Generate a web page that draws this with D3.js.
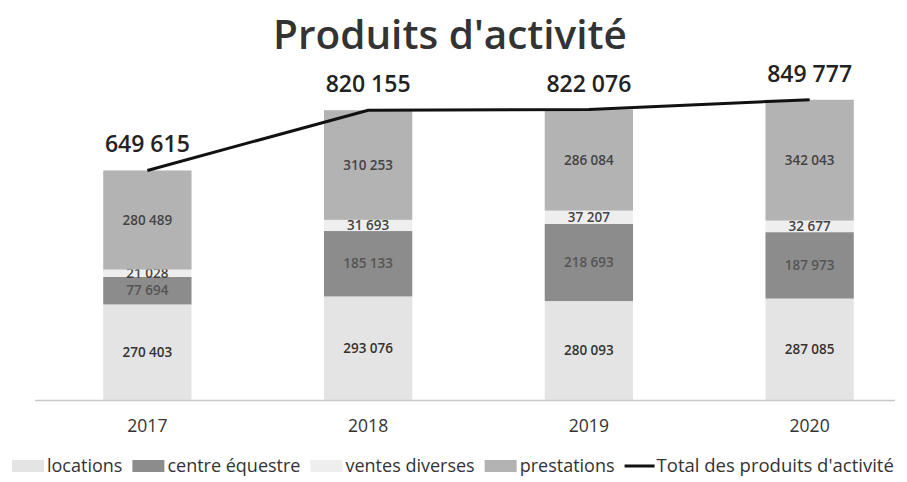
<!DOCTYPE html>
<html>
<head>
<meta charset="utf-8">
<script src="https://cdn.jsdelivr.net/npm/d3@7"></script>
<style>
  body { margin: 0; background: #fff; }
  svg { display: block; font-family: "Open Sans", "Noto Sans", sans-serif; }
</style>
</head>
<body>
<div id="chart"></div>
<script>
// data
const years = ["2017", "2018", "2019", "2020"];
const locations = [270403, 293076, 280093, 287085];
const centreEquestre = [77694, 185133, 218693, 187973];
const ventesDiverses = [21028, 31693, 37207, 32677];
const prestations = [280489, 310253, 286084, 342043];
const totals = [649615, 820155, 822076, 849777];

const seriesNames = ["locations", "centre équestre", "ventes diverses", "prestations"];
const seriesValues = [locations, centreEquestre, ventesDiverses, prestations];
const seriesColors = ["#e4e4e4", "#8c8c8c", "#eeeeee", "#b3b3b3"];
const labelColors = ["#333", "#555", "#444", "#444"];
const lineName = "Total des produits d'activité";

const width = 907, height = 482;

const svg = d3.select("#chart").append("svg")
    .attr("width", width)
    .attr("height", height);

// scales
const x = d3.scaleBand()
    .domain(years)
    .range([37, 920])
    .paddingInner(0.6)
    .paddingOuter(0.3);

const y = d3.scaleLinear()
    .domain([0, 900000])
    .range([400, 82]);

const fmt = v => d3.format(",")(v).replace(/,/g, " ");

// stack
const rows = years.map((yr, i) => {
    const r = { year: yr };
    seriesNames.forEach((s, k) => r[s] = seriesValues[k][i]);
    return r;
});
const stacked = d3.stack().keys(seriesNames)(rows);

// title
svg.append("text")
    .attr("x", 450)
    .attr("y", 49)
    .attr("text-anchor", "middle")
    .style("font-size", "40.5px")
    .style("font-weight", "600")
    .attr("fill", "#333")
    .text("Produits d'activité");

// bars
stacked.forEach((layer, k) => {
    const g = svg.append("g");
    g.selectAll("rect")
        .data(layer)
        .enter()
        .append("rect")
        .attr("x", d => x(d.data.year))
        .attr("width", x.bandwidth())
        .attr("y", d => y(d[1]))
        .attr("height", d => y(d[0]) - y(d[1]))
        .attr("fill", seriesColors[k]);

    g.selectAll("text")
        .data(layer)
        .enter()
        .append("text")
        .attr("x", d => x(d.data.year) + x.bandwidth() / 2)
        .attr("y", d => (y(d[0]) + y(d[1])) / 2)
        .attr("dy", "0.35em")
        .attr("text-anchor", "middle")
        .style("font-size", "13.5px")
        .style("font-weight", "600")
        .attr("fill", labelColors[k])
        .text(d => fmt(d[1] - d[0]));
});

// axis line + year labels
svg.append("line")
    .attr("x1", 35).attr("x2", 895)
    .attr("y1", 400.5).attr("y2", 400.5)
    .attr("stroke", "#c8c8c8")
    .attr("stroke-width", 1.5);

const xAxis = svg.append("g")
    .attr("transform", "translate(0,400)")
    .call(d3.axisBottom(x).tickSize(0).tickPadding(20));
xAxis.select(".domain").remove();
xAxis.selectAll("text")
    .style("font-size", "17.5px")
    .style("font-family", "'Open Sans', sans-serif")
    .attr("fill", "#333");

// total line
const line = d3.line()
    .x((d, i) => x(years[i]) + x.bandwidth() / 2)
    .y(d => y(d));

svg.append("path")
    .datum(totals)
    .attr("d", line)
    .attr("fill", "none")
    .attr("stroke", "#111")
    .attr("stroke-width", 3);

svg.selectAll(".total")
    .data(totals)
    .enter()
    .append("text")
    .attr("class", "total")
    .attr("x", (d, i) => x(years[i]) + x.bandwidth() / 2)
    .attr("y", d => y(d) - 18)
    .attr("text-anchor", "middle")
    .style("font-size", "23px")
    .style("font-weight", "600")
    .attr("fill", "#222")
    .text(d => fmt(d));

// legend
const legend = svg.append("g")
    .attr("transform", "translate(12, 466)");
let lx = 0;
seriesNames.forEach((s, k) => {
    legend.append("rect")
        .attr("x", lx)
        .attr("y", -6)
        .attr("width", 32)
        .attr("height", 12)
        .attr("fill", seriesColors[k]);
    const t = legend.append("text")
        .attr("x", lx + 35)
        .attr("dy", "0.35em")
        .style("font-size", "18px")
        .attr("fill", "#333")
        .text(s);
    lx += 35 + t.node().getComputedTextLength() + 10;
});
legend.append("line")
    .attr("x1", lx).attr("x2", lx + 30)
    .attr("stroke", "#111")
    .attr("stroke-width", 3);
legend.append("text")
    .attr("x", lx + 32)
    .attr("dy", "0.35em")
    .style("font-size", "18.5px")
    .attr("fill", "#333")
    .text(lineName);
</script>
</body>
</html>
